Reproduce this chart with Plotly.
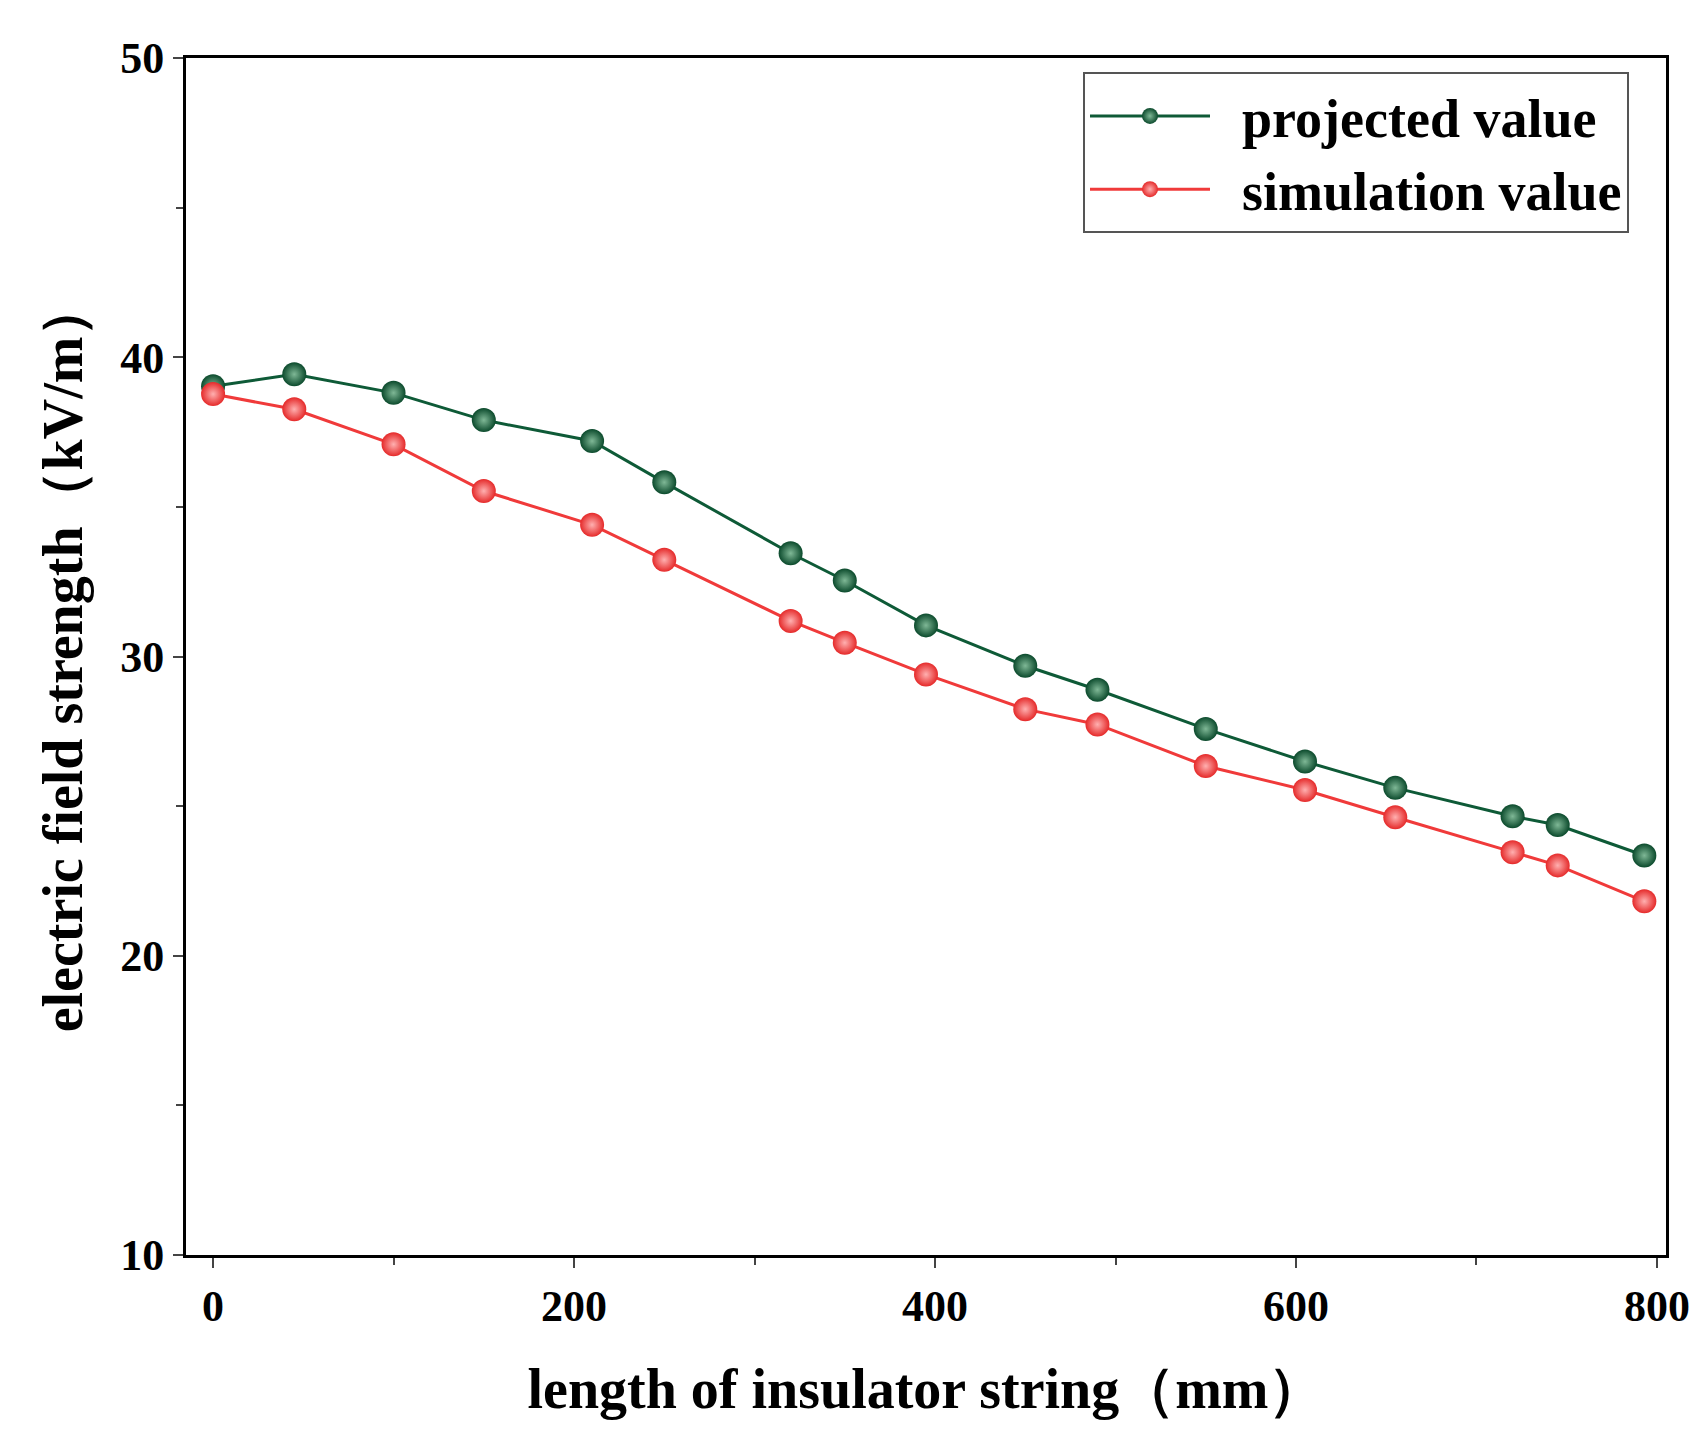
import plotly.graph_objects as go

x = [0, 45, 100, 150, 210, 250, 320, 350, 395, 450, 490, 550, 605, 655, 720, 745, 793]
projected = [39.03, 39.43, 38.81, 37.90, 37.20, 35.82, 33.45, 32.54, 31.04, 29.69, 28.89, 27.58, 26.49, 25.61, 24.66, 24.37, 23.35]
simulation = [38.77, 38.26, 37.09, 35.53, 34.40, 33.23, 31.19, 30.46, 29.40, 28.24, 27.73, 26.34, 25.54, 24.63, 23.46, 23.02, 21.82]

font = "Liberation Serif"
fig = go.Figure()
fig.add_trace(go.Scatter(x=x, y=projected, mode="lines+markers", name="  projected value",
    line=dict(color="#0e5a37", width=3),
    marker=dict(size=24, color="#0b4a2c", gradient=dict(type="radial", color="#7fb896"))))
fig.add_trace(go.Scatter(x=x, y=simulation, mode="lines+markers", name="  simulation value",
    line=dict(color="#f03a3a", width=3),
    marker=dict(size=24, color="#e52a2a", gradient=dict(type="radial", color="#ffb0b0"))))

axis = dict(showline=True, linecolor="black", linewidth=3, mirror=True, ticks="outside",
            ticklen=10, tickwidth=2, showgrid=False, zeroline=False,
            tickfont=dict(family=font, size=44, color="black", weight="bold"))
fig.update_layout(
    width=1702, height=1440, plot_bgcolor="white", paper_bgcolor="white",
    margin=dict(l=178, r=44, t=50, b=193),
    font=dict(family=font, color="black"),
    xaxis=dict(axis, range=[-15, 805], tickvals=[0, 200, 400, 600, 800], minor=dict(tickvals=[100, 300, 500, 700], ticklen=7, tickwidth=2, ticks="outside"),
               title=dict(text="<b>length of insulator string（mm）</b>", font=dict(size=56), standoff=40)),
    yaxis=dict(axis, range=[10, 50], tickvals=[10, 20, 30, 40, 50], minor=dict(tickvals=[15, 25, 35, 45], ticklen=7, tickwidth=2, ticks="outside"),
               title=dict(text="<b>electric field strength（kV/m）</b>", font=dict(size=56), standoff=20)),
    legend=dict(x=0.975, y=0.988, xanchor="right", yanchor="top", bordercolor="#555", borderwidth=2,
                bgcolor="white", font=dict(family=font, size=54, color="black", weight="bold"),
                itemwidth=120, tracegroupgap=0),
)
fig.write_html("out.html")
